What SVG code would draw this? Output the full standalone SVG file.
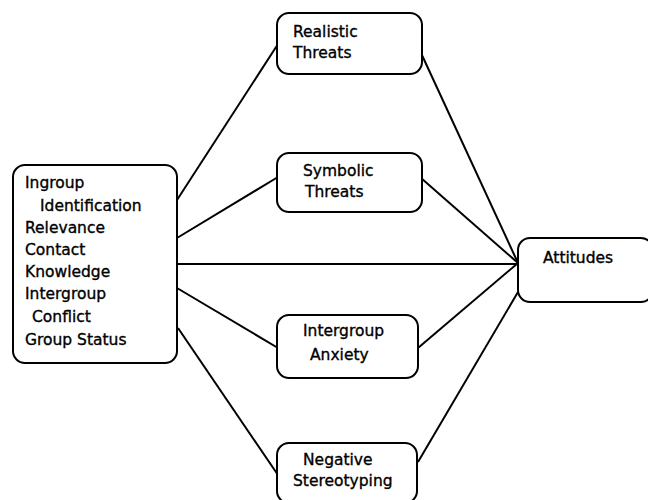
<svg xmlns="http://www.w3.org/2000/svg" width="648" height="500" viewBox="0 0 648 500">
<style>
.box{fill:#fff;stroke:#000;stroke-width:2}
.lbl{font-family:"DejaVu Sans",sans-serif;font-size:15.5px;fill:#000;stroke:#000;stroke-width:0.35}
.con{stroke:#000;stroke-width:2;fill:none}
</style>
<rect width="648" height="500" fill="#fff"/>
<g id="connectors">
<line class="con" x1="177" y1="200" x2="278" y2="44"/>
<line class="con" x1="177" y1="238" x2="278" y2="177"/>
<line class="con" x1="177" y1="264" x2="518" y2="264"/>
<line class="con" x1="177" y1="288" x2="278" y2="348"/>
<line class="con" x1="178" y1="328" x2="278" y2="475"/>
<line class="con" x1="421" y1="53" x2="518" y2="263"/>
<line class="con" x1="421" y1="178" x2="518" y2="263"/>
<line class="con" x1="418" y1="348" x2="518" y2="263"/>
<line class="con" x1="418" y1="462" x2="518" y2="292"/>
</g>
<g id="antecedents">
<rect class="box" x="13" y="165" width="164" height="198" rx="12"/>
<text class="lbl" x="25" y="188">Ingroup</text>
<text class="lbl" x="40" y="211">Identification</text>
<text class="lbl" x="25" y="233">Relevance</text>
<text class="lbl" x="25" y="255">Contact</text>
<text class="lbl" x="25" y="277">Knowledge</text>
<text class="lbl" x="25" y="299">Intergroup</text>
<text class="lbl" x="32" y="322">Conflict</text>
<text class="lbl" x="25" y="345">Group Status</text>
</g>
<g id="realistic">
<rect class="box" x="277" y="13" width="145" height="61" rx="12"/>
<text class="lbl" x="293" y="37">Realistic</text>
<text class="lbl" x="293" y="58">Threats</text>
</g>
<g id="symbolic">
<rect class="box" x="277" y="153" width="145" height="59" rx="12"/>
<text class="lbl" x="303" y="176">Symbolic</text>
<text class="lbl" x="305" y="197">Threats</text>
</g>
<g id="anxiety">
<rect class="box" x="277" y="315" width="141" height="63" rx="12"/>
<text class="lbl" x="303" y="336">Intergroup</text>
<text class="lbl" x="310" y="360">Anxiety</text>
</g>
<g id="stereotyping">
<rect class="box" x="277" y="443" width="140" height="60" rx="12"/>
<text class="lbl" x="303" y="465">Negative</text>
<text class="lbl" x="293" y="486">Stereotyping</text>
</g>
<g id="attitudes">
<rect class="box" x="518" y="238" width="135" height="64" rx="12"/>
<text class="lbl" x="543" y="263">Attitudes</text>
</g>
</svg>
